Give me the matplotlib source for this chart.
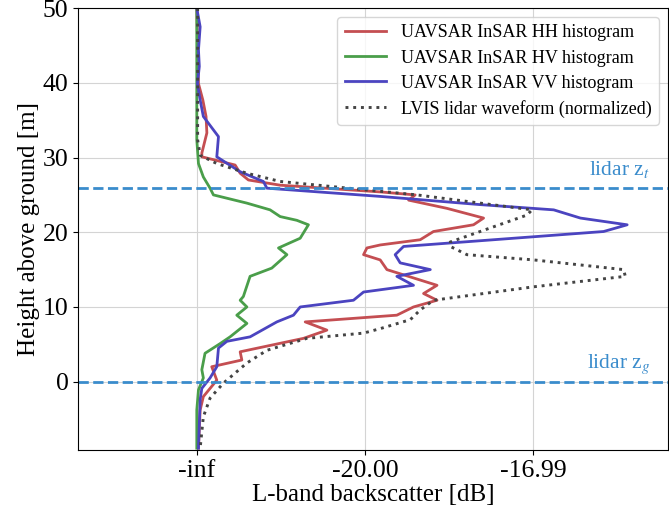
import numpy as np
import matplotlib
matplotlib.use("Agg")
import matplotlib.pyplot as plt
from matplotlib.ticker import FuncFormatter
from matplotlib.transforms import blended_transform_factory

plt.rcParams["font.family"] = ["Liberation Serif", "DejaVu Serif"]
plt.rcParams["mathtext.fontset"] = "stix"

# ---------------------------------------------------------------------------
# Profielen (lineaire backscatter, hoogte in m).
# ---------------------------------------------------------------------------
hh_height = [50, 39.9, 37.7, 35.5, 33.3, 30.6, 30.1, 29.0, 27.9, 27.0, 26.3, 25.4,
             25.0, 24.3, 23.2, 21.9, 21.0, 20.1, 19.0, 18.3, 17.9, 17.0, 16.3, 15.0,
             12.9, 11.8, 10.9, 10.0, 8.9, 8.0, 6.9, 5.8, 4.0, 2.9, 2.0, 0.2, -2.0,
             -3.8, -8.9]
hh_power = [0.0, 0.0001, 0.00036, 0.00055, 0.0006, 0.0003, 0.0003, 0.00228, 0.00258,
            0.00307, 0.00496, 0.01091, 0.01299, 0.0126, 0.01488, 0.01706, 0.01646,
            0.01408, 0.01329, 0.01091, 0.01012, 0.00992, 0.01091, 0.01131, 0.01429,
            0.01349, 0.01429, 0.01289, 0.0119, 0.00645, 0.00774, 0.00635, 0.00258,
            0.00268, 0.00089, 0.00119, 0.00039, 0.0002, 0.0001]

hv_height = [50, 32.4, 29.2, 27.4, 25.9, 25.0, 23.9, 23.0, 22.1, 21.6, 21.0, 19.2,
             17.9, 17.0, 15.2, 14.1, 11.4, 10.9, 10.0, 8.9, 7.8, 6.0, 5.1, 3.8, 1.6,
             0.5, -1.1, -3.8, -8.9]
hv_power = [0.0, 0.0, 0.0001, 0.00039, 0.00079, 0.00099, 0.00298, 0.00436, 0.00496,
            0.00595, 0.00664, 0.00615, 0.00486, 0.00536, 0.00446, 0.00317, 0.00277,
            0.00258, 0.00298, 0.00238, 0.00298, 0.00198, 0.00139, 0.00049, 0.0003,
            0.00039, 0.0001, 0.0, 0.0]

vv_height = [50, 47.5, 44.4, 42.2, 39.9, 37.7, 35.5, 32.8, 30.1, 28.1, 26.8, 25.9,
             24.8, 23.7, 23.0, 21.9, 21.0, 20.1, 19.4, 18.1, 17.0, 15.9, 15.0, 14.1,
             12.9, 12.0, 10.9, 10.0, 8.9, 8.0, 6.0, 5.4, 4.5, 2.0, 0.5, -0.9, -2.4,
             -8.9]
vv_power = [0.0, 0.0002, 0.0001, 0.00015, 0.00004, 0.0002, 0.00039, 0.00129, 0.00119,
            0.00258, 0.00396, 0.00417, 0.01091, 0.01686, 0.02123, 0.02282, 0.0256,
            0.0242, 0.02004, 0.0123, 0.0118, 0.0121, 0.01389, 0.0119, 0.01289,
            0.00992, 0.00932, 0.00615, 0.00575, 0.00476, 0.00317, 0.00179, 0.00129,
            0.00119, 0.00079, 0.0003, 0.0002, 0.0001]

lvis_height = [50, 32.4, 30.3, 29.2, 27.9, 26.8, 25.7, 25.0, 23.0, 22.3, 18.7, 18.1,
               17.0, 16.3, 15.0, 14.1, 12.7, 10.9, 9.6, 8.3, 7.1, 6.5, 5.8, 4.2, 2.5,
               -0.2, -2.2, -4.7, -8.9]
lvis_power = [0.00005, 0.00005, 0.0002, 0.00119, 0.00298, 0.00496, 0.00992, 0.0131,
              0.01994, 0.01964, 0.01508, 0.01508, 0.01607, 0.02004, 0.02539, 0.02549,
              0.02004, 0.01408, 0.01329, 0.0127, 0.01091, 0.00992, 0.00655, 0.00417,
              0.00298, 0.00158, 0.00079, 0.00039, 0.0002]

lidar_zt = 25.9
lidar_zg = 0.0
x_ticks = [0.0, 0.01, 0.02]

LIDAR_COLOR = "#3a8ccc"


def db_label(v, pos=None):
    with np.errstate(divide="ignore"):
        return f"{10 * np.log10(v):.2f}" if v > 0 else "-inf"


fig = plt.figure(figsize=(6.69, 5.09), dpi=100)
ax = fig.add_axes([0.117, 0.116, 0.881, 0.868])

ax.plot(hh_power, hh_height, color="#c44e52", lw=2, label="UAVSAR InSAR HH histogram")
ax.plot(hv_power, hv_height, color="#4a9e4a", lw=2, label="UAVSAR InSAR HV histogram")
ax.plot(vv_power, vv_height, color="#4b44c0", lw=2, label="UAVSAR InSAR VV histogram")
ax.plot(lvis_power, lvis_height, color="#444444", lw=2.1, ls=":",
        label="LVIS lidar waveform (normalized)")

# Lidar-hoogtes (top en grond).
trans = blended_transform_factory(ax.transAxes, ax.transData)
for z, lab in [(lidar_zt, r"lidar z$_t$"), (lidar_zg, r"lidar z$_g$")]:
    ax.axhline(z, color=LIDAR_COLOR, ls="--", lw=2)
    ax.text(0.971, z + 1.8, lab, transform=trans, ha="right", va="baseline",
            color=LIDAR_COLOR, fontsize=15.5)

ax.set_xlim(-0.00705, 0.02801)
ax.set_ylim(-9.14, 50)
ax.set_xticks(x_ticks)
ax.xaxis.set_major_formatter(FuncFormatter(db_label))
ax.set_yticks([0, 10, 20, 30, 40, 50])
ax.tick_params(labelsize=18.5)
ax.grid(color="#d4d4d4", lw=0.8)
ax.set_axisbelow(True)

ax.set_xlabel("L-band backscatter [dB]", fontsize=18, labelpad=2)
ax.set_ylabel("Height above ground [m]", fontsize=18, labelpad=2)
ax.legend(loc="upper right", fontsize=13, handlelength=2.3, framealpha=0.8,
          labelspacing=0.45)

fig.savefig("out.png", dpi=100)
